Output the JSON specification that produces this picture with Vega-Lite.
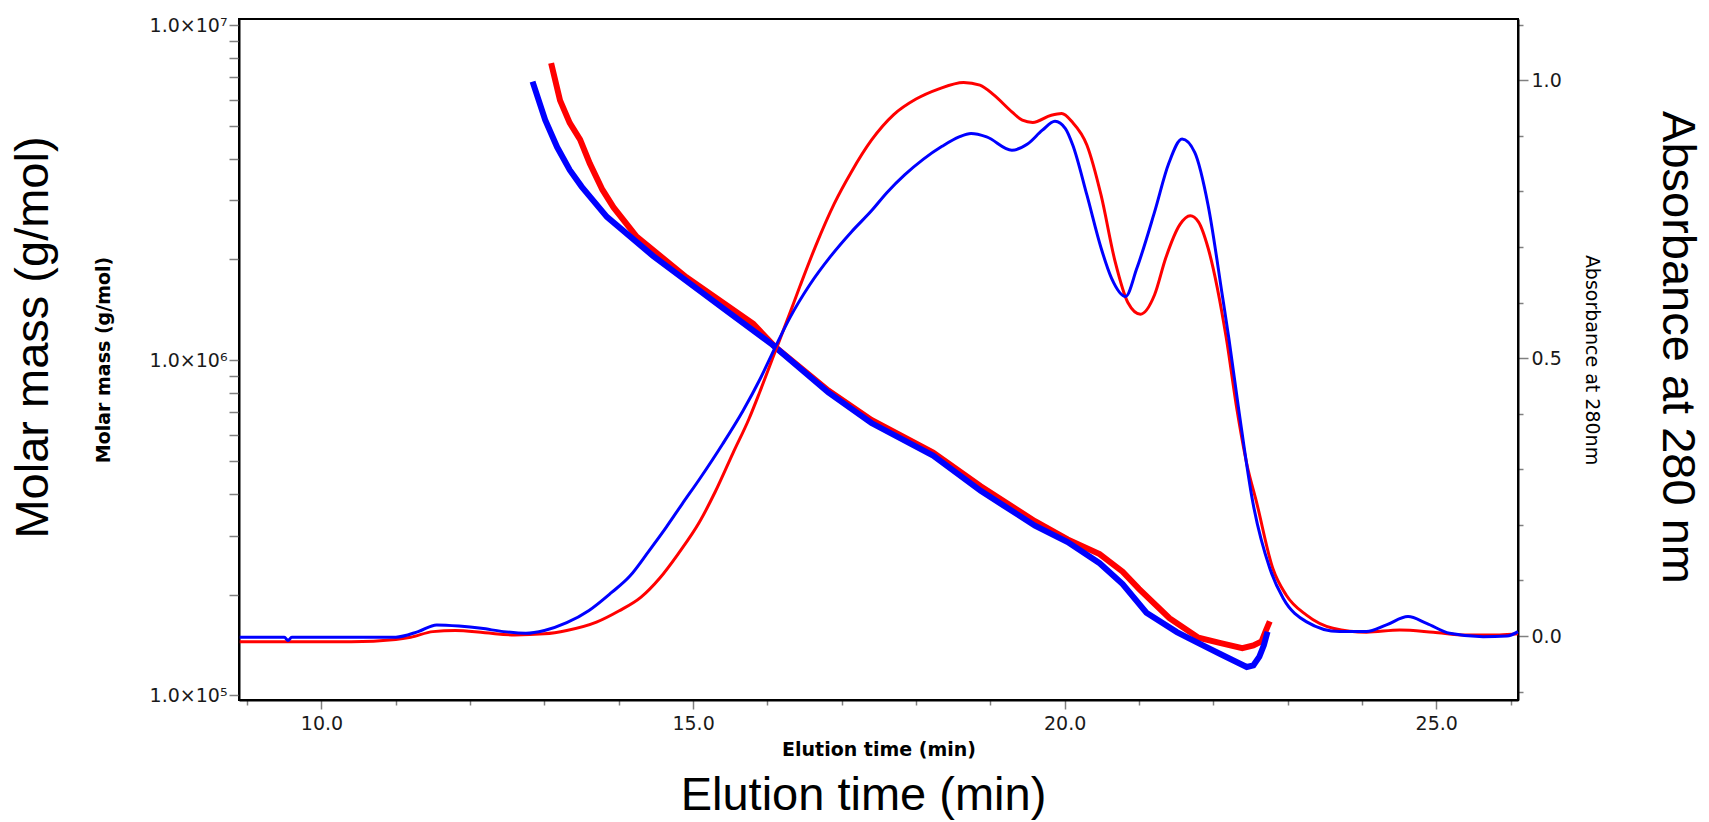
{
  "$schema": "https://vega.github.io/schema/vega-lite/v6.json",
  "width": 1279,
  "height": 681,
  "autosize": {"type": "none"},
  "padding": {"left": 239, "top": 19, "right": 191, "bottom": 122},
  "background": "white",
  "config": {
    "font": "DejaVu Sans",
    "view": {"stroke": "black", "strokeWidth": 2},
    "axis": {
      "grid": false,
      "labelFont": "DejaVu Sans",
      "labelFontSize": 19,
      "labelColor": "#1a1a1a",
      "tickColor": "#808080",
      "tickWidth": 1.5,
      "domainColor": "black",
      "domainWidth": 2,
      "titleFont": "DejaVu Sans",
      "titleColor": "black"
    }
  },
  "title": {
    "text": "Elution time (min)",
    "orient": "bottom",
    "fontSize": 47,
    "fontWeight": "normal",
    "font": "Liberation Sans",
    "color": "black",
    "offset": 14,
    "dx": -15
  },
  "datasets": {
    "mass": [
      {"t": 13.09, "M": 7710000, "s": "A"}, {"t": 13.21, "M": 5970000, "s": "A"}, {"t": 13.34, "M": 5110000, "s": "A"},
      {"t": 13.48, "M": 4560000, "s": "A"}, {"t": 13.61, "M": 3870000, "s": "A"}, {"t": 13.78, "M": 3230000, "s": "A"},
      {"t": 13.93, "M": 2860000, "s": "A"}, {"t": 14.24, "M": 2340000, "s": "A"}, {"t": 14.91, "M": 1770000, "s": "A"},
      {"t": 15.81, "M": 1285000, "s": "A"}, {"t": 16.1, "M": 1099000, "s": "A"}, {"t": 16.82, "M": 813000, "s": "A"},
      {"t": 17.4, "M": 664000, "s": "A"}, {"t": 18.23, "M": 531000, "s": "A"}, {"t": 18.87, "M": 421000, "s": "A"},
      {"t": 19.6, "M": 331000, "s": "A"}, {"t": 20.04, "M": 292000, "s": "A"}, {"t": 20.47, "M": 264000, "s": "A"},
      {"t": 20.78, "M": 234000, "s": "A"}, {"t": 21.0, "M": 208000, "s": "A"}, {"t": 21.41, "M": 170000, "s": "A"},
      {"t": 21.8, "M": 148600, "s": "A"}, {"t": 22.1, "M": 143200, "s": "A"}, {"t": 22.39, "M": 138400, "s": "A"},
      {"t": 22.54, "M": 141000, "s": "A"}, {"t": 22.65, "M": 145000, "s": "A"}, {"t": 22.71, "M": 156700, "s": "A"},
      {"t": 22.76, "M": 166300, "s": "A"},
      {"t": 12.84, "M": 6790000, "s": "B"}, {"t": 13.01, "M": 5220000, "s": "B"}, {"t": 13.17, "M": 4330000, "s": "B"},
      {"t": 13.34, "M": 3700000, "s": "B"}, {"t": 13.5, "M": 3300000, "s": "B"}, {"t": 13.84, "M": 2680000, "s": "B"},
      {"t": 14.46, "M": 2050000, "s": "B"}, {"t": 15.37, "M": 1449000, "s": "B"}, {"t": 16.07, "M": 1112000, "s": "B"},
      {"t": 16.82, "M": 802000, "s": "B"}, {"t": 17.4, "M": 650000, "s": "B"}, {"t": 18.23, "M": 520000, "s": "B"},
      {"t": 18.87, "M": 408000, "s": "B"}, {"t": 19.6, "M": 321000, "s": "B"}, {"t": 20.04, "M": 287000, "s": "B"},
      {"t": 20.47, "M": 248000, "s": "B"}, {"t": 20.78, "M": 215000, "s": "B"}, {"t": 21.1, "M": 176600, "s": "B"},
      {"t": 21.51, "M": 154500, "s": "B"}, {"t": 21.8, "M": 143200, "s": "B"}, {"t": 22.1, "M": 132700, "s": "B"},
      {"t": 22.45, "M": 121600, "s": "B"}, {"t": 22.54, "M": 123000, "s": "B"}, {"t": 22.62, "M": 130600, "s": "B"},
      {"t": 22.68, "M": 141000, "s": "B"}, {"t": 22.73, "M": 154900, "s": "B"}
    ],
    "abs": [
      {"t": 8.9, "A": -0.01, "s": "A"}, {"t": 10.0, "A": -0.01, "s": "A"}, {"t": 10.4, "A": -0.01, "s": "A"},
      {"t": 11.0, "A": -0.006, "s": "A"}, {"t": 11.2, "A": -0.002, "s": "A"}, {"t": 11.5, "A": 0.008, "s": "A"},
      {"t": 11.8, "A": 0.01, "s": "A"}, {"t": 12.2, "A": 0.006, "s": "A"}, {"t": 12.6, "A": 0.002, "s": "A"},
      {"t": 13.0, "A": 0.004, "s": "A"}, {"t": 13.3, "A": 0.01, "s": "A"}, {"t": 13.7, "A": 0.025, "s": "A"},
      {"t": 14.0, "A": 0.045, "s": "A"}, {"t": 14.3, "A": 0.07, "s": "A"}, {"t": 14.55, "A": 0.104, "s": "A"},
      {"t": 14.8, "A": 0.148, "s": "A"}, {"t": 15.09, "A": 0.206, "s": "A"}, {"t": 15.3, "A": 0.26, "s": "A"},
      {"t": 15.54, "A": 0.33, "s": "A"}, {"t": 15.75, "A": 0.39, "s": "A"}, {"t": 15.9, "A": 0.44, "s": "A"},
      {"t": 16.1, "A": 0.51, "s": "A"}, {"t": 16.3, "A": 0.58, "s": "A"}, {"t": 16.44, "A": 0.63, "s": "A"},
      {"t": 16.65, "A": 0.702, "s": "A"}, {"t": 16.9, "A": 0.778, "s": "A"}, {"t": 17.13, "A": 0.835, "s": "A"},
      {"t": 17.4, "A": 0.892, "s": "A"}, {"t": 17.7, "A": 0.938, "s": "A"}, {"t": 18.0, "A": 0.966, "s": "A"},
      {"t": 18.3, "A": 0.984, "s": "A"}, {"t": 18.64, "A": 0.996, "s": "A"}, {"t": 18.86, "A": 0.991, "s": "A"},
      {"t": 19.05, "A": 0.973, "s": "A"}, {"t": 19.29, "A": 0.943, "s": "A"}, {"t": 19.43, "A": 0.928, "s": "A"},
      {"t": 19.57, "A": 0.924, "s": "A"}, {"t": 19.82, "A": 0.937, "s": "A"}, {"t": 19.96, "A": 0.94, "s": "A"},
      {"t": 20.1, "A": 0.925, "s": "A"}, {"t": 20.3, "A": 0.883, "s": "A"}, {"t": 20.49, "A": 0.793, "s": "A"},
      {"t": 20.68, "A": 0.673, "s": "A"}, {"t": 20.85, "A": 0.6, "s": "A"}, {"t": 21.02, "A": 0.579, "s": "A"},
      {"t": 21.21, "A": 0.614, "s": "A"}, {"t": 21.36, "A": 0.68, "s": "A"}, {"t": 21.55, "A": 0.74, "s": "A"},
      {"t": 21.69, "A": 0.756, "s": "A"}, {"t": 21.8, "A": 0.745, "s": "A"}, {"t": 21.93, "A": 0.698, "s": "A"},
      {"t": 22.17, "A": 0.54, "s": "A"}, {"t": 22.32, "A": 0.406, "s": "A"}, {"t": 22.45, "A": 0.31, "s": "A"},
      {"t": 22.58, "A": 0.242, "s": "A"}, {"t": 22.8, "A": 0.122, "s": "A"}, {"t": 22.98, "A": 0.074, "s": "A"},
      {"t": 23.25, "A": 0.038, "s": "A"}, {"t": 23.61, "A": 0.014, "s": "A"}, {"t": 24.06, "A": 0.007, "s": "A"},
      {"t": 24.51, "A": 0.011, "s": "A"}, {"t": 24.96, "A": 0.007, "s": "A"}, {"t": 25.4, "A": 0.002, "s": "A"},
      {"t": 25.85, "A": 0.002, "s": "A"}, {"t": 26.1, "A": 0.004, "s": "A"},
      {"t": 8.9, "A": -0.002, "s": "B"}, {"t": 9.5, "A": -0.002, "s": "B"}, {"t": 9.55, "A": -0.008, "s": "B"},
      {"t": 9.6, "A": -0.002, "s": "B"}, {"t": 11.0, "A": -0.002, "s": "B"}, {"t": 11.3, "A": 0.008, "s": "B"},
      {"t": 11.55, "A": 0.02, "s": "B"}, {"t": 11.85, "A": 0.018, "s": "B"}, {"t": 12.15, "A": 0.014, "s": "B"},
      {"t": 12.45, "A": 0.008, "s": "B"}, {"t": 12.75, "A": 0.005, "s": "B"}, {"t": 13.0, "A": 0.01, "s": "B"},
      {"t": 13.3, "A": 0.024, "s": "B"}, {"t": 13.6, "A": 0.046, "s": "B"}, {"t": 13.9, "A": 0.078, "s": "B"},
      {"t": 14.15, "A": 0.108, "s": "B"}, {"t": 14.4, "A": 0.152, "s": "B"}, {"t": 14.64, "A": 0.196, "s": "B"},
      {"t": 14.85, "A": 0.237, "s": "B"}, {"t": 15.09, "A": 0.283, "s": "B"}, {"t": 15.4, "A": 0.346, "s": "B"},
      {"t": 15.67, "A": 0.405, "s": "B"}, {"t": 15.9, "A": 0.462, "s": "B"}, {"t": 16.1, "A": 0.518, "s": "B"},
      {"t": 16.3, "A": 0.572, "s": "B"}, {"t": 16.57, "A": 0.632, "s": "B"}, {"t": 16.85, "A": 0.683, "s": "B"},
      {"t": 17.13, "A": 0.727, "s": "B"}, {"t": 17.4, "A": 0.765, "s": "B"}, {"t": 17.61, "A": 0.798, "s": "B"},
      {"t": 17.85, "A": 0.83, "s": "B"}, {"t": 18.1, "A": 0.858, "s": "B"}, {"t": 18.35, "A": 0.881, "s": "B"},
      {"t": 18.58, "A": 0.898, "s": "B"}, {"t": 18.74, "A": 0.904, "s": "B"}, {"t": 18.95, "A": 0.898, "s": "B"},
      {"t": 19.29, "A": 0.874, "s": "B"}, {"t": 19.5, "A": 0.885, "s": "B"}, {"t": 19.7, "A": 0.91, "s": "B"},
      {"t": 19.87, "A": 0.926, "s": "B"}, {"t": 20.01, "A": 0.913, "s": "B"}, {"t": 20.11, "A": 0.883, "s": "B"},
      {"t": 20.3, "A": 0.793, "s": "B"}, {"t": 20.49, "A": 0.698, "s": "B"}, {"t": 20.63, "A": 0.644, "s": "B"},
      {"t": 20.82, "A": 0.611, "s": "B"}, {"t": 20.97, "A": 0.661, "s": "B"}, {"t": 21.21, "A": 0.763, "s": "B"},
      {"t": 21.4, "A": 0.85, "s": "B"}, {"t": 21.58, "A": 0.894, "s": "B"}, {"t": 21.75, "A": 0.87, "s": "B"},
      {"t": 21.93, "A": 0.775, "s": "B"}, {"t": 22.12, "A": 0.614, "s": "B"}, {"t": 22.21, "A": 0.535, "s": "B"},
      {"t": 22.35, "A": 0.4, "s": "B"}, {"t": 22.53, "A": 0.242, "s": "B"}, {"t": 22.76, "A": 0.122, "s": "B"},
      {"t": 22.94, "A": 0.068, "s": "B"}, {"t": 23.25, "A": 0.026, "s": "B"}, {"t": 23.7, "A": 0.008, "s": "B"},
      {"t": 24.06, "A": 0.008, "s": "B"}, {"t": 24.33, "A": 0.02, "s": "B"}, {"t": 24.62, "A": 0.035, "s": "B"},
      {"t": 24.87, "A": 0.023, "s": "B"}, {"t": 25.18, "A": 0.005, "s": "B"}, {"t": 25.63, "A": -0.001, "s": "B"},
      {"t": 25.95, "A": 0.0, "s": "B"}, {"t": 26.1, "A": 0.008, "s": "B"}
    ]
  },
  "encoding": {
    "x": {
      "field": "t",
      "type": "quantitative",
      "scale": {"domain": [8.89, 26.1], "nice": false, "zero": false},
      "axis": {
        "values": [9, 10, 11, 12, 13, 14, 15, 16, 17, 18, 19, 20, 21, 22, 23, 24, 25, 26],
        "labelExpr": "datum.value % 5 === 0 ? format(datum.value, '.1f') : ''",
        "tickSize": {"condition": {"test": "datum.value % 5 === 0", "value": 9}, "value": 5},
        "labelPadding": 5,
        "labelFlush": false,
        "labelOverlap": false,
        "title": "Elution time (min)",
        "titleFontSize": 19,
        "titleFontWeight": "bold",
        "titleBaseline": "middle",
        "titleY": 49
      }
    },
    "color": {
      "field": "s",
      "type": "nominal",
      "scale": {"domain": ["A", "B"], "range": ["#ff0000", "#0000ff"]},
      "legend": null
    }
  },
  "layer": [
    {
      "data": {"name": "mass"},
      "mark": {"type": "line", "strokeWidth": 6},
      "encoding": {
        "y": {
          "field": "M",
          "type": "quantitative",
          "scale": {"type": "log", "domain": [96900, 10440000], "nice": false},
          "axis": {
            "orient": "left",
            "values": [100000, 200000, 300000, 400000, 500000, 600000, 700000, 800000, 900000, 1000000, 2000000, 3000000, 4000000, 5000000, 6000000, 7000000, 8000000, 9000000, 10000000],
            "labelExpr": "datum.value == 100000 ? '1.0×10⁵' : datum.value == 1000000 ? '1.0×10⁶' : datum.value == 10000000 ? '1.0×10⁷' : ''",
            "tickSize": 10,
            "labelPadding": 2,
            "labelOverlap": false,
            "labelFlush": false,
            "title": "Molar mass (g/mol)",
            "titleFontSize": 19,
            "titleFontWeight": "bold",
            "titleBaseline": "middle",
            "titleX": -135.5
          }
        }
      }
    },
    {
      "data": {"name": "abs"},
      "mark": {"type": "line", "strokeWidth": 3, "interpolate": "monotone"},
      "encoding": {
        "y": {
          "field": "A",
          "type": "quantitative",
          "scale": {"domain": [-0.115, 1.11], "nice": false, "zero": false},
          "axis": {
            "orient": "right",
            "values": [-0.1, 0, 0.1, 0.2, 0.3, 0.4, 0.5, 0.6, 0.7, 0.8, 0.9, 1, 1.1],
            "labelExpr": "datum.value == 0 || datum.value == 0.5 || datum.value == 1 ? format(datum.value, '.1f') : ''",
            "tickSize": {"condition": {"test": "datum.value == 0 || datum.value == 0.5 || datum.value == 1", "value": 10}, "value": 5},
            "labelPadding": 3,
            "labelOverlap": false,
            "labelFlush": false,
            "title": "Absorbance at 280nm",
            "titleFontSize": 19,
            "titleFontWeight": "normal",
            "titleBaseline": "middle",
            "titleX": 73
          }
        }
      }
    },
    {
      "data": {"name": "mass"},
      "mark": {"type": "line", "strokeOpacity": 0},
      "encoding": {
        "y": {
          "field": "M",
          "type": "quantitative",
          "scale": {"type": "log", "domain": [96900, 10440000], "nice": false},
          "axis": {
            "orient": "left",
            "labels": false,
            "ticks": false,
            "domain": false,
            "title": "Molar mass (g/mol)",
            "titleFont": "Liberation Sans",
            "titleFontSize": 47,
            "titleFontWeight": "normal",
            "titleBaseline": "middle",
            "titleX": -206,
            "titleY": 318
          }
        }
      }
    },
    {
      "data": {"name": "abs"},
      "mark": {"type": "line", "strokeOpacity": 0},
      "encoding": {
        "y": {
          "field": "A",
          "type": "quantitative",
          "scale": {"domain": [-0.115, 1.11], "nice": false, "zero": false},
          "axis": {
            "orient": "right",
            "labels": false,
            "ticks": false,
            "domain": false,
            "title": "Absorbance at 280 nm",
            "titleFont": "Liberation Sans",
            "titleFontSize": 47,
            "titleFontWeight": "normal",
            "titleBaseline": "middle",
            "titleX": 158,
            "titleY": 328
          }
        }
      }
    }
  ],
  "resolve": {"scale": {"y": "independent"}}
}
